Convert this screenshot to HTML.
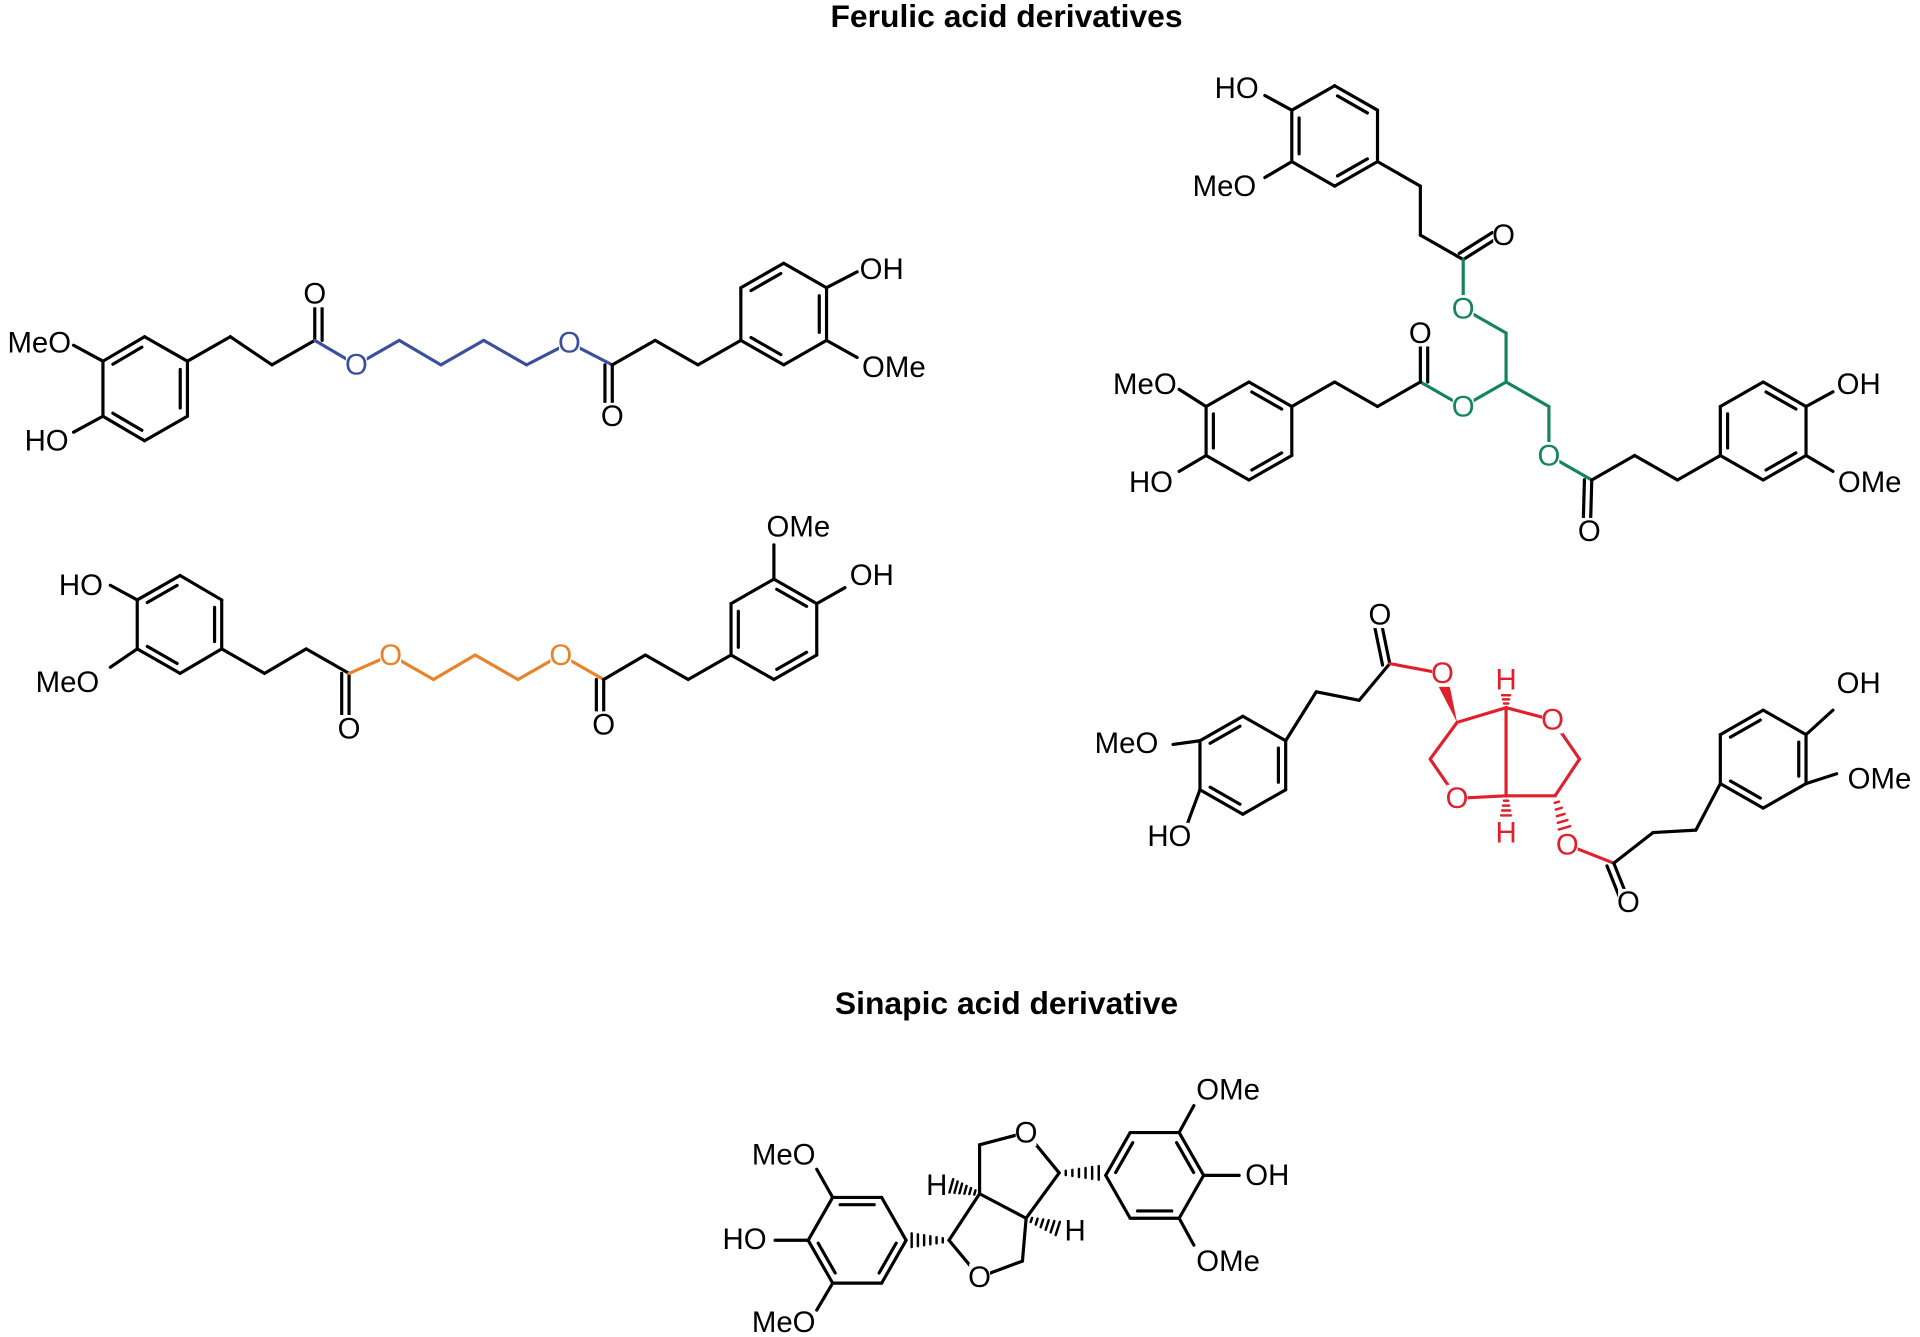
<!DOCTYPE html>
<html><head><meta charset="utf-8"><style>
html,body{margin:0;padding:0;background:#fff;width:1920px;height:1337px;overflow:hidden}
svg{display:block}
text{font-family:"Liberation Sans",sans-serif}
</style></head><body>
<svg id="s" width="1920" height="1337" viewBox="0 0 1568 1092" xmlns="http://www.w3.org/2000/svg">
<text x="822" y="22" text-anchor="middle" font-size="26" font-weight="bold">Ferulic acid derivatives</text>
<text x="822" y="828" text-anchor="middle" font-size="26" font-weight="bold">Sinapic acid derivative</text>
<g id="b" stroke-width="2.6" stroke-linecap="round" fill="none"></g>
<g id="t" font-size="24"></g>
</svg>
<script>
const NS="http://www.w3.org/2000/svg",B=document.getElementById('b'),T=document.getElementById('t');
const K='#000',BL='#3a4f9e',OR='#e8832a',GR='#14855a',RD='#e0202a';
function L(a,b,c){c=c||K;const l=document.createElementNS(NS,'line');l.setAttribute('x1',a[0]);l.setAttribute('y1',a[1]);l.setAttribute('x2',b[0]);l.setAttribute('y2',b[1]);l.setAttribute('stroke',c);B.appendChild(l);}
function P(pts,c){for(let i=0;i<pts.length-1;i++)L(pts[i],pts[i+1],c);}
function D(a,b,c,side){c=c||K;const dx=b[0]-a[0],dy=b[1]-a[1],n=Math.hypot(dx,dy);const ox=-dy/n*6*(side||1),oy=dx/n*6*(side||1);
 L(a,b,c);L([a[0]+ox,a[1]+oy],[b[0]+ox,b[1]+oy],c);}
function R(v,dbl){const cx=v.reduce((s,p)=>s+p[0],0)/6,cy=v.reduce((s,p)=>s+p[1],0)/6;
 for(let i=0;i<6;i++){const a=v[i],b=v[(i+1)%6];L(a,b);
  if(dbl.includes(i)){const ia=[a[0]+(cx-a[0])*0.17,a[1]+(cy-a[1])*0.17],ib=[b[0]+(cx-b[0])*0.17,b[1]+(cy-b[1])*0.17];
   L([ia[0]+(ib[0]-ia[0])*0.08,ia[1]+(ib[1]-ia[1])*0.08],[ia[0]+(ib[0]-ia[0])*0.92,ia[1]+(ib[1]-ia[1])*0.92]);}}}
function X(s,x,y,c,anc){const w=s.length*15+2;const r=document.createElementNS(NS,'rect');
 r.setAttribute('x',x-w/2);r.setAttribute('y',y-11);r.setAttribute('width',w);r.setAttribute('height',22);r.setAttribute('fill','#fff');T.appendChild(r);
 const t=document.createElementNS(NS,'text');t.textContent=s;t.setAttribute('x',x);t.setAttribute('y',y+8);
 t.setAttribute('text-anchor',anc||'middle');t.setAttribute('fill',c||K);T.appendChild(t);}
function W(a,b,c){const dx=b[0]-a[0],dy=b[1]-a[1],n=Math.hypot(dx,dy),ox=-dy/n*5,oy=dx/n*5;
 const p=document.createElementNS(NS,'polygon');p.setAttribute('points',`${a[0]},${a[1]} ${b[0]+ox},${b[1]+oy} ${b[0]-ox},${b[1]-oy}`);p.setAttribute('fill',c||K);p.setAttribute('stroke','none');B.appendChild(p);}
function H(a,b,c){const dx=b[0]-a[0],dy=b[1]-a[1],n=Math.hypot(dx,dy);for(let i=1;i<=6;i++){const f=i/6.5,w=1+5*f,ox=-dy/n*w,oy=dx/n*w;
 const mx=a[0]+dx*f,my=a[1]+dy*f;const l=document.createElementNS(NS,'line');l.setAttribute('x1',mx+ox);l.setAttribute('y1',my+oy);l.setAttribute('x2',mx-ox);l.setAttribute('y2',my-oy);l.setAttribute('stroke',c||K);l.setAttribute('stroke-width','2');B.appendChild(l);}}

R([[118,275],[153,295],[153,340],[118,360],[84,340],[84,295]],[1,3,5]);
L([84,295],[60,282]);X('MeO',32,280);
L([84,340],[60,353]);X('HO',38,360);
P([[153,295],[188,275],[222,298],[257,278]]);D([257,278],[257,245],K,1);X('O',257,240);
L([257,278],[291,298],BL);X('O',291,298,BL);
P([[291,298],[326,278],[360,298],[395,278],[430,298],[465,280]],BL);X('O',465,280,BL);
L([465,280],[500,298],BL);D([500,298],[500,332],K,1);X('O',500,340);
P([[500,298],[535,278],[570,298],[605,278]]);
R([[605,235],[640,215],[675,235],[675,278],[640,298],[605,278]],[0,2,4]);
L([675,235],[700,222]);X('OH',720,220);
L([675,278],[700,292]);X('OMe',730,300);

R([[112,490],[147,470],[181,490],[181,530],[147,550],[112,530]],[0,2,4]);
L([112,490],[90,478]);X('HO',66,478);
L([112,530],[90,545]);X('MeO',55,557);
P([[181,530],[216,550],[250,530],[285,550]]);D([285,550],[285,584],K,1);X('O',285,595);
L([285,550],[319,535],OR);X('O',319,535,OR);
P([[319,535],[354,555],[388,535],[423,555],[458,535]],OR);X('O',458,535,OR);
L([458,535],[493,555],OR);D([493,555],[493,586],K,1);X('O',493,592);
P([[493,555],[527,535],[562,555],[597,535]]);
R([[597,535],[597,493],[632,473],[667,493],[667,535],[632,555]],[0,2,4]);
L([632,473],[632,445]);X('OMe',652,430);
L([667,493],[690,480]);X('OH',712,470);

R([[1090,70],[1125,90],[1125,132],[1090,152],[1055,132],[1055,90]],[0,2,4]);
L([1055,90],[1033,78]);X('HO',1010,72);
L([1055,132],[1033,145]);X('MeO',1000,152);
P([[1125,132],[1160,152],[1160,192],[1195,212]]);D([1195,212],[1222,195],K,-1);X('O',1228,192);
L([1195,212],[1195,252],GR);X('O',1195,252,GR);
P([[1195,252],[1230,272],[1230,312],[1265,332],[1265,372]],GR);X('O',1265,372,GR);
L([1265,372],[1300,392],GR);D([1300,392],[1299,428],K,1);X('O',1298,434);
P([[1300,392],[1335,372],[1370,392],[1405,372]]);
R([[1405,372],[1405,332],[1440,312],[1475,332],[1475,372],[1440,392]],[0,2,4]);
L([1475,332],[1497,320]);X('OH',1518,314);
L([1475,372],[1497,385]);X('OMe',1527,394);
L([1230,312],[1195,332],GR);X('O',1195,332,GR);
L([1195,332],[1160,312],GR);D([1160,312],[1160,280],K,1);X('O',1160,272);
P([[1160,312],[1125,332],[1090,312],[1055,332]]);
R([[1055,332],[1020,312],[985,332],[985,372],[1020,392],[1055,372]],[0,2,4]);
L([985,332],[963,318]);X('MeO',935,314);
L([985,372],[963,385]);X('HO',940,394);

R([[1015,585],[1050,605],[1050,645],[1015,665],[980,645],[980,605]],[1,3,5]);
L([980,605],[958,608]);X('MeO',920,607);
L([980,645],[970,672]);X('HO',955,683);
P([[1050,605],[1075,565],[1110,572],[1135,542]]);D([1135,542],[1128,508],K,-1);X('O',1127,502);
L([1135,542],[1178,550],RD);X('O',1178,550,RD);
W([1190,590],[1178,556],RD);
P([[1190,590],[1230,578],[1268,588]],RD);X('O',1268,588,RD);
P([[1268,588],[1290,620],[1270,650],[1230,650],[1190,652]],RD);X('O',1190,652,RD);
P([[1190,652],[1168,620],[1190,590]],RD);L([1230,578],[1230,650],RD);
H([1230,578],[1230,556],RD);X('H',1230,555,RD);
H([1230,650],[1230,676],RD);X('H',1230,680,RD);
H([1270,650],[1280,684],RD);X('O',1280,690,RD);
L([1280,690],[1318,705],RD);D([1318,705],[1328,730],K,1);X('O',1330,737);
P([[1318,705],[1350,680],[1385,678],[1405,640]]);
R([[1405,600],[1440,580],[1475,600],[1475,640],[1440,660],[1405,640]],[0,2,4]);
L([1475,600],[1497,580]);X('OH',1518,558);
L([1475,640],[1500,632]);X('OMe',1535,636);

R([[660,1013],[680,978],[720,978],[740,1013],[720,1048],[680,1048]],[1,3,5]);
L([660,1013],[633,1013]);X('HO',608,1012);
L([680,978],[667,955]);X('MeO',640,943);
L([680,1048],[667,1070]);X('MeO',640,1080);
H([775,1013],[742,1013]);
P([[775,1013],[800,975],[838,995],[835,1030],[800,1043]]);X('O',800,1043);L([800,1043],[775,1013]);
P([[800,975],[800,935],[838,925]]);X('O',838,925);P([[838,925],[865,958],[838,995]]);
H([800,975],[775,968]);X('H',765,968);
H([838,995],[866,1004]);X('H',878,1005);
H([865,958],[900,958]);
R([[903,960],[923,925],[963,925],[983,960],[963,995],[923,995]],[0,2,4]);
L([963,925],[975,903]);X('OMe',1003,890);
L([983,960],[1012,960]);X('OH',1035,960);
L([963,995],[975,1017]);X('OMe',1003,1030);
</script>
</body></html>
